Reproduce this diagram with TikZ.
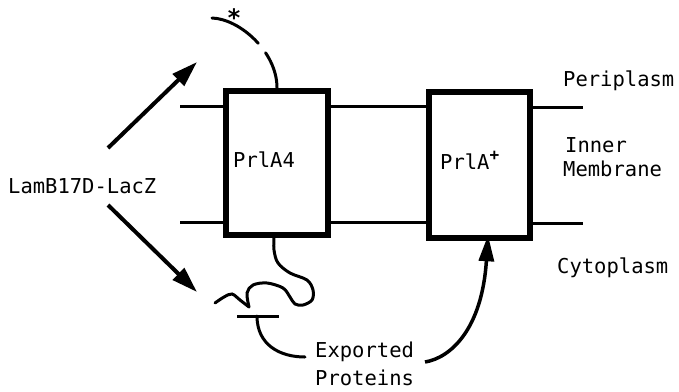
\documentclass[tikz,border=0pt]{standalone}
\usepackage{fontspec}
\setmonofont{DejaVu Sans Mono}
\usetikzlibrary{arrows.meta}
\begin{document}
\begin{tikzpicture}[x=1pt,y=-1pt,
  lbl/.style={font=\ttfamily\fontsize{20.5}{24}\selectfont, inner sep=0pt, anchor=base west},
  memb/.style={line width=3pt},
  boxline/.style={draw, line width=6.5pt, inner sep=0pt, rectangle},
  bigarrow/.style={line width=4pt, -{Triangle[length=26pt,width=16pt]}},
  chain/.style={line width=3pt, line cap=round}]
\useasboundingbox (0,0) rectangle (679,391);
% membrane boxes
\node[boxline, minimum width=102pt, minimum height=144pt] (p4) at (277,163) {};
\node[boxline, minimum width=101pt, minimum height=146pt] (pp) at (479.5,165) {};
% membrane lines
\coordinate (lt) at (180,106);
\coordinate (lb) at (180,222);
\coordinate (rt) at (583,107);
\coordinate (rb) at (583,223);
\draw[memb] (lt) -- (lt -| p4.west);
\draw[memb] (lb) -- (lb -| p4.west);
\draw[memb] (p4.east |- 0,106) -- (pp.west |- 0,106);
\draw[memb] (p4.east |- 0,222) -- (pp.west |- 0,222);
\draw[memb] (rt -| pp.east) -- (rt);
\draw[memb] (rb -| pp.east) -- (rb);
% labels
\node[lbl] (peri) at (563,86) {Periplasm};
\node[lbl] (inner) at (565,152) {Inner};
\node[lbl] (mem) at (563,176) {Membrane};
\node[lbl] (cyto) at (557,273) {Cytoplasm};
\node[lbl] (lamb) at (8,193) {LamB17D-LacZ};
\node[lbl] (t4) at (233,167) {PrlA4};
\node[lbl] (tp) at (440,169) {PrlA\raisebox{0.4em}{\fontsize{16}{16}\selectfont\bfseries +}};
\node[lbl] (exp1) at (315,357) {Exported};
\node[lbl] (exp2) at (315,385) {Proteins};
\node[font=\ttfamily\bfseries\fontsize{24}{24}\selectfont, inner sep=0pt, anchor=base] (star) at (234,26) {*};
% arrows from LamB17D-LacZ
\coordinate (a1s) at (108,148);
\coordinate (a1e) at (197,62);
\coordinate (a2s) at (108,205);
\coordinate (a2e) at (197,292);
\draw[bigarrow] (a1s) -- (a1e);
\draw[bigarrow] (a2s) -- (a2e);
% periplasmic dashed chain
\coordinate (c1) at (212,18);
\draw[chain, dash pattern=on 54pt off 12pt on 90pt] (c1) .. controls (240,19) and (277,52) .. (p4.north -| 277,0);
% cytoplasmic squiggle
\draw[chain] plot[smooth, tension=0.55] coordinates {(274,236) (274,250) (278,263) (290,273) (307,280) (313,290) (312,300) (303,305) (295,304) (290,297) (283,288) (267,283) (253,285) (247,293) (249,307)};
\draw[chain] plot[smooth, tension=0.55] coordinates {(249,307) (240,300) (232,294) (224,297) (215,303)};
% T-shaped exported protein
\coordinate (tl) at (237,316);
\coordinate (tr) at (279,316);
\coordinate (tm) at (257,316);
\coordinate (te) at (305,357);
\draw[chain, line cap=butt] (tl) -- (tr);
\draw[chain] (tm) .. controls (257,345) and (280,357) .. (te);
% arrow to PrlA+
\coordinate (es) at (425,362);
\draw[line width=3.5pt, -{Triangle[length=26pt,width=15pt]}] (es) .. controls (450,358) and (482,330) .. ([yshift=6pt]pp.south -| 488,0);
\end{tikzpicture}
\end{document}
